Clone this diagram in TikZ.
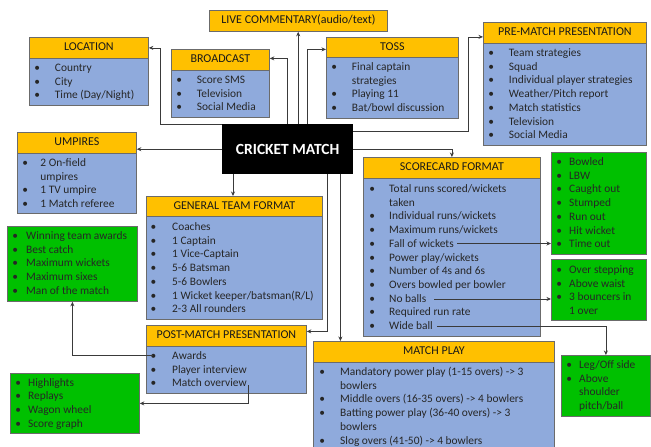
\documentclass[tikz,border=0pt]{standalone}
\usepackage{fontspec}
\setmainfont{Carlito}
\usetikzlibrary{arrows.meta}

\definecolor{hdrgold}{HTML}{FFC000}
\definecolor{bodyblue}{HTML}{8FAADC}
\definecolor{boxgreen}{HTML}{00C000}
\definecolor{edgegray}{HTML}{6B6B6B}
\definecolor{txtgray}{HTML}{262626}
\definecolor{linegray}{HTML}{3A3A3A}

% bullet list helpers: \bi[gap]{text} starts an item, \ci[gap]{text} continues one
\newcommand{\bi}[2][20.5pt]{\makebox[#1][l]{\textbullet}#2}
\newcommand{\ci}[2][20.5pt]{\hspace*{#1}#2}
\newcommand{\blist}[1]{\begin{minipage}[t]{300pt}\fontsize{11.4pt}{13.7pt}\selectfont\raggedright #1\end{minipage}}

\tikzset{
  hdr/.style={draw=edgegray, line width=0.8pt, fill=hdrgold, anchor=north west,
    inner sep=0pt, font=\fontsize{12pt}{14pt}\selectfont, text=black!90,
    text height=8.5pt, text depth=2.5pt},
  body/.style={draw=edgegray, line width=0.8pt, fill=bodyblue, anchor=north west, inner sep=0pt},
  gbox/.style={draw=edgegray, line width=0.8pt, fill=boxgreen, anchor=north west, inner sep=0pt},
  lst/.style={anchor=base west, inner sep=0pt, text=txtgray},
  conn/.style={draw=linegray, line width=0.8pt, -{Stealth[length=4.5pt,width=4pt]}},
}

\begin{document}
\begin{tikzpicture}[x=1pt, y=-1pt]
\useasboundingbox (0,0) rectangle (651,447);
\fill[white] (0,0) rectangle (651,447);

% ---------- central node ----------
\node[fill=black, minimum width=131pt, minimum height=50pt, anchor=north west, inner sep=0pt,
  text=white, font=\fontsize{15.5pt}{17pt}\selectfont\bfseries] (cm) at (222,124) {CRICKET MATCH};

% ---------- live commentary ----------
\node[hdr, minimum width=178pt, minimum height=21pt] (live) at (209,10) {LIVE COMMENTARY(audio/text)};

% ---------- location ----------
\node[hdr, minimum width=119pt, minimum height=21pt] (loc-h) at (29,37) {LOCATION};
\node[body, minimum width=119pt, minimum height=47pt] (loc-b) at (29,58) {};
\node[lst] (loc-l) at (34.25,71.5) {\blist{\bi{Country}\\ \bi{City}\\ \bi{Time (Day/Night)}}};

% ---------- broadcast ----------
\node[hdr, minimum width=98pt, minimum height=21pt] (bc-h) at (171,49) {BROADCAST};
\node[body, minimum width=98pt, minimum height=47pt] (bc-b) at (171,70) {};
\node[lst] (bc-l) at (176.25,83.5) {\blist{\bi{Score SMS}\\ \bi{Television}\\ \bi{Social Media}}};

% ---------- toss ----------
\node[hdr, minimum width=132pt, minimum height=20pt] (toss-h) at (326,37) {TOSS};
\node[body, minimum width=132pt, minimum height=61pt] (toss-b) at (326,57) {};
\node[lst] (toss-l) at (331.25,70.5) {\blist{\bi{Final captain}\\ \ci{strategies}\\ \bi{Playing 11}\\ \bi{Bat/bowl discussion}}};

% ---------- pre-match presentation ----------
\node[hdr, minimum width=163pt, minimum height=21pt] (pre-h) at (483,22) {PRE-MATCH PRESENTATION};
\node[body, minimum width=163pt, minimum height=102pt] (pre-b) at (483,43) {};
\node[lst] (pre-l) at (488.25,56.5) {\blist{\bi{Team strategies}\\ \bi{Squad}\\ \bi{Individual player strategies}\\
  \bi{Weather/Pitch report}\\ \bi{Match statistics}\\ \bi{Television}\\ \bi{Social Media}}};

% ---------- umpires ----------
\node[hdr, minimum width=119pt, minimum height=21pt] (ump-h) at (17,132) {UMPIRES};
\node[body, minimum width=119pt, minimum height=60pt] (ump-b) at (17,153) {};
\node[lst] (ump-l) at (22.25,166.5) {\blist{\bi[18pt]{2 On-field}\\ \ci[18pt]{umpires}\\ \bi[18pt]{1 TV umpire}\\ \bi[18pt]{1 Match referee}}};

% ---------- general team format ----------
\node[hdr, minimum width=176pt, minimum height=20pt] (gtf-h) at (146,196) {GENERAL TEAM FORMAT};
\node[body, minimum width=176pt, minimum height=103pt] (gtf-b) at (146,216) {};
\node[lst] (gtf-l) at (150.5,230.5) {\blist{\bi[21.5pt]{Coaches}\\ \bi[21.5pt]{1 Captain}\\ \bi[21.5pt]{1 Vice-Captain}\\
  \bi[21.5pt]{5-6 Batsman}\\ \bi[21.5pt]{5-6 Bowlers}\\ \bi[21.5pt]{1 Wicket keeper/batsman(R/L)}\\ \bi[21.5pt]{2-3 All rounders}}};

% ---------- post-match presentation ----------
\node[hdr, minimum width=160pt, minimum height=21pt] (post-h) at (146,325) {POST-MATCH PRESENTATION};
\node[body, minimum width=160pt, minimum height=47pt] (post-b) at (146,346) {};
\node[lst] (post-l) at (150.5,359.5) {\blist{\bi[21.5pt]{Awards}\\ \bi[21.5pt]{Player interview}\\ \bi[21.5pt]{Match overview}}};

% ---------- scorecard format ----------
\node[hdr, minimum width=177pt, minimum height=21pt] (sc-h) at (363,157) {SCORECARD FORMAT};
\node[body, minimum width=177pt, minimum height=158pt] (sc-b) at (363,178) {};
\node[lst] (sc-l) at (369.25,192.5) {\blist{\bi[19.75pt]{Total runs scored/wickets}\\ \ci[19.75pt]{taken}\\
  \bi[19.75pt]{Individual runs/wickets}\\ \bi[19.75pt]{Maximum runs/wickets}\\ \bi[19.75pt]{Fall of wickets}\\
  \bi[19.75pt]{Power play/wickets}\\ \bi[19.75pt]{Number of 4s and 6s}\\ \bi[19.75pt]{Overs bowled per bowler}\\
  \bi[19.75pt]{No balls}\\ \bi[19.75pt]{Required run rate}\\ \bi[19.75pt]{Wide ball}}};

% ---------- match play ----------
\node[hdr, minimum width=241pt, minimum height=21pt] (mp-h) at (313,341) {MATCH PLAY};
\node[body, minimum width=241pt, minimum height=90pt] (mp-b) at (313,362) {};
\node[lst] (mp-l) at (319.25,375.5) {\blist{\bi[20.75pt]{Mandatory power play (1-15 overs) -> 3}\\ \ci[20.75pt]{bowlers}\\
  \bi[20.75pt]{Middle overs (16-35 overs) -> 4 bowlers}\\ \bi[20.75pt]{Batting power play (36-40 overs) -> 3}\\
  \ci[20.75pt]{bowlers}\\ \bi[20.75pt]{Slog overs (41-50) -> 4 bowlers}}};

% ---------- green detail boxes ----------
\node[gbox, minimum width=130pt, minimum height=75pt] (awd) at (7,226) {};
\node[lst] (awd-l) at (12.25,239.5) {\blist{\bi[13.75pt]{Winning team awards}\\ \bi[13.75pt]{Best catch}\\
  \bi[13.75pt]{Maximum wickets}\\ \bi[13.75pt]{Maximum sixes}\\ \bi[13.75pt]{Man of the match}}};

\node[gbox, minimum width=129pt, minimum height=60pt] (hl) at (10,373) {};
\node[lst] (hl-l) at (15.25,386.2) {\blist{\bi[12.75pt]{Highlights}\\ \bi[12.75pt]{Replays}\\
  \bi[12.75pt]{Wagon wheel}\\ \bi[12.75pt]{Score graph}}};

\node[gbox, minimum width=95pt, minimum height=102pt] (dis) at (551,152) {};
\node[lst] (dis-l) at (556.25,165.5) {\blist{\bi[12.75pt]{Bowled}\\ \bi[12.75pt]{LBW}\\ \bi[12.75pt]{Caught out}\\
  \bi[12.75pt]{Stumped}\\ \bi[12.75pt]{Run out}\\ \bi[12.75pt]{Hit wicket}\\ \bi[12.75pt]{Time out}}};

\node[gbox, minimum width=95pt, minimum height=61pt] (nb) at (551,259) {};
\node[lst] (nb-l) at (556.25,273.5) {\blist{\bi[12.75pt]{Over stepping}\\ \bi[12.75pt]{Above waist}\\
  \bi[12.75pt]{3 bouncers in}\\ \ci[12.75pt]{1 over}}};

\node[gbox, minimum width=89pt, minimum height=61pt] (leg) at (561,355) {};
\node[lst] (leg-l) at (566.25,368.5) {\blist{\bi[12.75pt]{Leg/Off side}\\ \bi[12.75pt]{Above}\\
  \ci[12.75pt]{shoulder}\\ \ci[12.75pt]{pitch/ball}}};

% ---------- connectors from the central node ----------
\draw[conn] ([xshift=10.5pt]cm.north) -- ([xshift=10.5pt]cm.north |- live.south);
\draw[conn] (cm.north west) -- ++(-62,0) |- (loc-h.east);
\draw[conn] (cm.north) |- ([yshift=1.5pt]bc-h.east);
\draw[conn] ([xshift=19.5pt]cm.north) |- ([yshift=-2pt]toss-h.west);
\draw[conn] ([yshift=-7pt]cm.north east) -- ++(115,0) |- ([yshift=-4pt]pre-h.west);
\draw[conn] (cm.east) -| (sc-h.north);
\draw[conn] (cm.west) -- (cm.west -| ump-h.east);
\draw[conn] ([xshift=11pt]cm.south west) -- ([xshift=11pt]cm.south west |- gtf-h.north);
\draw[conn] ([xshift=-26pt]cm.south east) |- ([yshift=4.5pt]post-h.east);
\draw[conn] ([xshift=-13pt]cm.south east) -- ([xshift=-13pt]cm.south east |- mp-h.north);

% ---------- connectors from list items ----------
\coordinate (awards-pt) at (153,355);
\coordinate (overview-pt) at (248,385);
\coordinate (fall-pt) at (457,243.5);
\coordinate (noball-pt) at (434,299);
\coordinate (wide-pt) at (437,326.5);

\draw[conn] (awards-pt) -| (awd.south);
\draw[conn] (overview-pt) |- (hl.east);
\draw[conn] (fall-pt) -- (fall-pt -| dis.west);
\draw[conn] (noball-pt) -- (noball-pt -| nb.west);
\draw[conn] (wide-pt) -| (leg.north);
\end{tikzpicture}
\end{document}
